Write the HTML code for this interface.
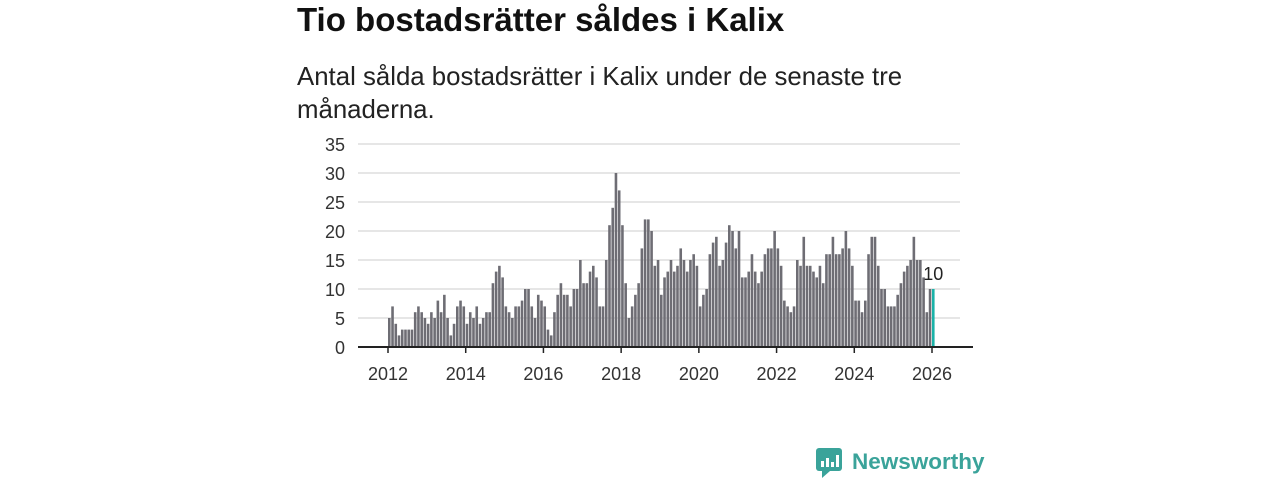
<!DOCTYPE html>
<html><head><meta charset="utf-8"><style>
body{margin:0;width:1280px;height:480px;background:#fff;font-family:"Liberation Sans",sans-serif;overflow:hidden}
#title{position:absolute;left:297px;top:1px;font-size:33px;font-weight:bold;color:#111;margin:0}
#sub{position:absolute;left:297px;top:61px;font-size:25.8px;line-height:33px;color:#222;width:700px;margin:0}
svg{position:absolute;left:0;top:0}
</style></head><body>
<h1 id="title">Tio bostadsrätter såldes i Kalix</h1>
<p id="sub">Antal sålda bostadsrätter i Kalix under de senaste tre<br>månaderna.</p>
<svg id="chart" width="1280" height="480"></svg>
<script>
const values = [
5,7,4,2,3,3,3,3,6,7,6,5,
4,6,5,8,6,9,5,2,4,7,8,7,
4,6,5,7,4,5,6,6,11,13,14,12,
7,6,5,7,7,8,10,10,7,5,9,8,
7,3,2,6,9,11,9,9,7,10,10,15,
11,11,13,14,12,7,7,15,21,24,30,27,
21,11,5,7,9,11,17,22,22,20,14,15,
9,12,13,15,13,14,17,15,13,15,16,14,
7,9,10,16,18,19,14,15,18,21,20,17,
20,12,12,13,16,13,11,13,16,17,17,20,
17,14,8,7,6,7,15,14,19,14,14,13,
12,14,11,16,16,19,16,16,17,20,17,14,
8,8,6,8,16,19,19,14,10,10,7,7,
7,9,11,13,14,15,19,15,15,12,6,10,
10];
const yTicks = [0,5,10,15,20,25,30,35];
const xYears = [2012,2014,2016,2018,2020,2022,2024,2026];
const startYear = 2012;
const NS="http://www.w3.org/2000/svg";
const svg=document.getElementById('chart');
const x0=388,x1=932,y0=347,y35=144;
const xm=i=>x0+i*(x1-x0)/168;
const xy=yr=>x0+(yr-startYear)*12*(x1-x0)/168;
const y=v=>y0-v*(y0-y35)/35;
function mk(t,a){const e=document.createElementNS(NS,t);for(const k in a)e.setAttribute(k,a[k]);svg.appendChild(e);return e;}
yTicks.forEach(v=>{
  if(v>0){const g=mk('line',{x1:358,x2:960,y1:y(v),y2:y(v),stroke:'#ddd','stroke-width':1.5});
  
  }
  const t=mk('text',{x:345,y:y(v)+7,'text-anchor':'end','font-size':18,fill:'#333'});t.textContent=v;
  
  
});
const bw=(x1-x0)/168*0.8;
values.forEach((v,i)=>{
  const last=i===values.length-1;
  const r=mk('rect',{x:xm(i),y:y(v),width:bw,height:y0-y(v),fill:last?'#1ab2a8':'#6e6d74'});
  
  
});
const li=values.length-1;
const lab=mk('text',{x:xm(li)+bw/2,y:y(values[li])-9,'text-anchor':'middle','font-size':18,fill:'#222'});
lab.textContent=values[li];


const ax=mk('line',{x1:358,x2:973,y1:y0,y2:y0,stroke:'#222','stroke-width':2});


xYears.forEach(yr=>{
  const tk=mk('line',{x1:xy(yr),x2:xy(yr),y1:y0,y2:y0+6,stroke:'#222','stroke-width':1.5});
  
  
  const t=mk('text',{x:xy(yr),y:380,'text-anchor':'middle','font-size':18,fill:'#333'});t.textContent=yr;
  
  
});
</script>
<svg width="1280" height="480">
<rect x="816" y="448" width="26" height="23" rx="3" fill="#3aa39a"/>
<polygon points="822,471 830,471 822,478" fill="#3aa39a"/>
<rect x="821" y="461" width="3" height="6" fill="#fff"/><rect x="826" y="458" width="3" height="9" fill="#fff"/><rect x="831" y="462" width="3" height="5" fill="#fff"/><rect x="836" y="455" width="3" height="12" fill="#fff"/>
<text x="852" y="469" font-size="22.5" font-weight="bold" fill="#3aa39a" font-family="Liberation Sans, sans-serif">Newsworthy</text>
</svg>
</body></html>
